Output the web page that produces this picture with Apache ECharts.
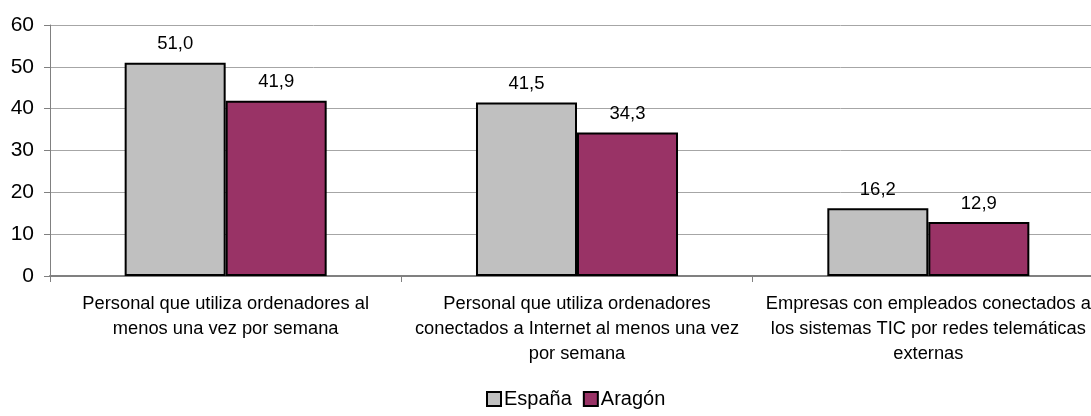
<!DOCTYPE html>
<html><head><meta charset="utf-8">
<script src="https://cdn.jsdelivr.net/npm/echarts@6/dist/echarts.min.js"></script>
<style>html,body{margin:0;padding:0;background:#fff;overflow:hidden}#c{width:1110px;height:416px}</style>
</head><body><div id="c"></div>
<script>
const categories = [
  "Personal que utiliza ordenadores al\nmenos una vez por semana",
  "Personal que utiliza ordenadores\nconectados a Internet al menos una vez\npor semana",
  "Empresas con empleados conectados a\nlos sistemas TIC por redes telemáticas\nexternas"
];
const espana = [51.0, 41.5, 16.2];
const aragon = [41.9, 34.3, 12.9];
const seriesNames = ["España", "Aragón"];
const yTicks = [0, 10, 20, 30, 40, 50, 60];

const font = "Liberation Sans, Arial, sans-serif";
const chart = echarts.init(document.getElementById('c'), null, {renderer: 'canvas'});
const lbl = {show: true, position: 'top', distance: 9, color: '#000', fontFamily: font, fontSize: 18.5,
  formatter: p => p.value.toFixed(1).replace('.', ',')};
chart.setOption({
  animation: false,
  grid: {left: 50, right: 6, top: 25, height: 251, containLabel: false},
  legend: {
    top: 384, left: 481, itemWidth: 14, itemHeight: 14, itemGap: 11,
    textStyle: {fontFamily: font, fontSize: 20, color: '#000', padding: [0, 0, 0, -2]},
    data: seriesNames.map(n => ({name: n, icon: 'rect'}))
  },
  xAxis: {
    type: 'category', data: categories,
    axisLine: {lineStyle: {color: '#808080', width: 2}},
    axisTick: {show: true, length: 6, lineStyle: {color: '#808080'}},
    axisLabel: {fontFamily: font, fontSize: 18.3, color: '#000', lineHeight: 25, margin: 15, interval: 0}
  },
  yAxis: {
    type: 'value', min: yTicks[0], max: yTicks[yTicks.length - 1], interval: 10,
    axisLine: {show: true, lineStyle: {color: '#808080', width: 1}},
    axisTick: {show: true, length: 6, lineStyle: {color: '#808080'}},
    splitLine: {lineStyle: {color: '#a6a6a6', width: 1}},
    axisLabel: {fontFamily: font, fontSize: 21, color: '#000', margin: 16}
  },
  series: [
    {name: seriesNames[0], type: 'bar', data: espana, barGap: '0%', barCategoryGap: '42.5%',
     itemStyle: {color: '#c0c0c0', borderColor: '#000', borderWidth: 2}, label: lbl},
    {name: seriesNames[1], type: 'bar', data: aragon,
     itemStyle: {color: '#993366', borderColor: '#000', borderWidth: 2}, label: lbl}
  ]
});
</script></body></html>
